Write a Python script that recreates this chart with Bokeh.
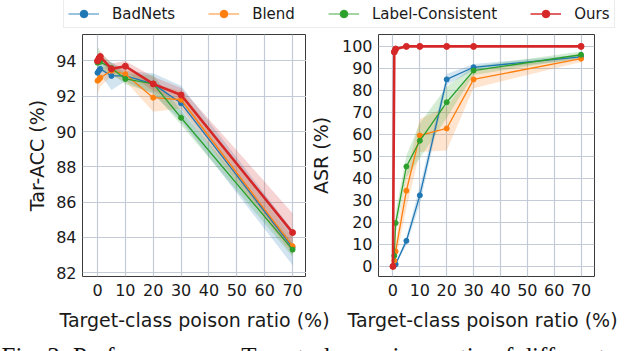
from bokeh.plotting import figure
from bokeh.layouts import column, row
from bokeh.models import ColumnDataSource, Legend, LegendItem, Range1d, FixedTicker, Label
from bokeh.embed import file_html
from bokeh.resources import INLINE

ratios = [0, 0.5, 1, 5, 10, 20, 30, 70]
methods = ["BadNets", "Blend", "Label-Consistent", "Ours"]
colors = ["#1f77b4", "#ff7f0e", "#2ca02c", "#d62728"]

# Tar-ACC (%) mean and spread
acc_badnets = [93.33, 93.45, 93.55, 93.15, 93.15, 92.70, 91.60, 83.42]
acc_blend = [92.88, 92.95, 93.05, 93.45, 93.25, 91.92, 91.80, 83.50]
acc_lc = [93.90, 94.05, 93.95, 93.60, 92.98, 92.70, 90.78, 83.30]
acc_ours = [94.00, 94.15, 94.25, 93.55, 93.70, 92.70, 92.07, 84.27]
acc_std_badnets = [0.4, 0.35, 0.3, 0.8, 0.3, 0.6, 1.0, 1.0]
acc_std_blend = [0.8, 0.6, 0.5, 0.3, 0.4, 0.8, 0.5, 0.5]
acc_std_lc = [0.8, 0.7, 0.5, 0.3, 0.3, 0.5, 0.4, 0.4]
acc_std_ours = [0.3, 0.3, 0.3, 0.3, 0.3, 0.4, 0.4, 1.1]

# ASR (%) mean and spread
asr_badnets = [0.0, 0.5, 1.0, 11.6, 32.3, 85.0, 90.5, 95.2]
asr_blend = [0.0, 2.6, 6.8, 34.4, 59.5, 62.7, 85.0, 94.4]
asr_lc = [0.0, 4.8, 19.7, 45.4, 57.1, 74.6, 89.0, 96.2]
asr_ours = [0.0, 97.5, 98.8, 100.0, 100.0, 100.0, 100.0, 100.0]
asr_std_badnets = [0.0, 0.3, 0.5, 2.0, 4.0, 2.5, 1.5, 1.0]
asr_std_blend = [0.0, 1.5, 4.0, 8.0, 7.5, 10.0, 4.0, 1.5]
asr_std_lc = [0.0, 2.0, 5.0, 5.0, 8.0, 7.0, 2.0, 1.5]
asr_std_ours = [0.0, 0.5, 0.4, 0.2, 0.1, 0.1, 0.1, 0.1]

x_ticks = [0, 10, 20, 30, 40, 50, 60, 70]
acc_ticks = [82, 84, 86, 88, 90, 92, 94]
asr_ticks = [0, 10, 20, 30, 40, 50, 60, 70, 80, 90, 100]

x_label = "Target-class poison ratio (%)"
caption = "Fig. 3: Performance vs. Target-class poison ratio of different"

FONT = "DejaVu Sans"
GRID = "#c3ccd6"
FRAME = "#3a3a3a"
TXT = "#1a1a1a"


def style(p, yticks, ylabel, ylab_standoff):
    p.xaxis.ticker = FixedTicker(ticks=x_ticks)
    p.yaxis.ticker = FixedTicker(ticks=yticks)
    for ax in (p.xaxis, p.yaxis):
        ax.major_label_text_font = FONT
        ax.major_label_text_font_size = "16px"
        ax.major_label_text_color = TXT
        ax.axis_label_text_font = FONT
        ax.axis_label_text_font_size = "19px"
        ax.axis_label_text_font_style = "normal"
        ax.axis_label_text_color = TXT
        ax.major_tick_out = 0
        ax.major_tick_in = 0
        ax.minor_tick_out = 0
        ax.minor_tick_in = 0
        ax.axis_line_color = None
        ax.major_label_standoff = 6
    p.xaxis.major_label_standoff = 7
    p.yaxis.axis_label = ylabel
    p.yaxis.axis_label_standoff = ylab_standoff
    p.grid.grid_line_color = GRID
    p.grid.grid_line_width = 1.2
    p.outline_line_color = FRAME
    p.outline_line_width = 1
    p.background_fill_color = "white"
    p.border_fill_color = "white"


def draw(p, means, stds, widths):
    for m, s, c in zip(means, stds, colors):
        lo = [a - b for a, b in zip(m, s)]
        hi = [a + b for a, b in zip(m, s)]
        src = ColumnDataSource(dict(x=ratios, lo=lo, hi=hi))
        p.varea(x="x", y1="lo", y2="hi", source=src, fill_color=c, fill_alpha=0.2)
    for m, c, w in zip(means, colors, widths):
        src = ColumnDataSource(dict(x=ratios, y=m))
        p.line(x="x", y="y", source=src, line_color=c, line_width=w)
        p.scatter(x="x", y="y", source=src, size=5 if w < 2 else 6, fill_color=c, line_color=c)


p1 = figure(width=306, height=270, output_backend="svg", toolbar_location=None,
            x_range=Range1d(-5.38, 75.0), y_range=Range1d(81.78, 95.5),
            min_border_left=82, min_border_right=0, min_border_top=4, min_border_bottom=22)
style(p1, acc_ticks, "Tar-ACC (%)", 5)
draw(p1, [acc_badnets, acc_blend, acc_lc, acc_ours],
     [acc_std_badnets, acc_std_blend, acc_std_lc, acc_std_ours], [1.3, 1.3, 1.3, 2.6])

p2 = figure(width=334, height=270, output_backend="svg", toolbar_location=None,
            x_range=Range1d(-5.38, 75.0), y_range=Range1d(-4.6, 105.4),
            min_border_left=64, min_border_right=46, min_border_top=2, min_border_bottom=24)
style(p2, asr_ticks, "ASR (%)", 7)
draw(p2, [asr_badnets, asr_blend, asr_lc, asr_ours],
     [asr_std_badnets, asr_std_blend, asr_std_lc, asr_std_ours], [1.3, 1.3, 1.3, 2.6])

# legend strip (series drawn out of view; only the legend is visible)
lg = figure(width=640, height=30, output_backend="svg", toolbar_location=None,
            x_range=Range1d(0, 1), y_range=Range1d(0, 1),
            min_border_left=0, min_border_right=0, min_border_top=0, min_border_bottom=0)
lg.axis.visible = False
lg.grid.visible = False
lg.outline_line_color = None
items = []
for name, c, m in zip(methods, colors, [acc_badnets, acc_blend, acc_lc, acc_ours]):
    src = ColumnDataSource(dict(x=ratios, y=m))
    r1 = lg.line(x="x", y="y", source=src, line_color=c, line_width=1.6,
                 line_alpha=0.55 if name != "Ours" else 0.9)
    r2 = lg.scatter(x="x", y="y", source=src, size=4, fill_color=c, line_color=c)
    items.append(LegendItem(label=name, renderers=[r1, r2]))
legend = Legend(items=items, orientation="horizontal", location=(63, 2),
                label_text_font=FONT, label_text_font_size="15px", label_text_color=TXT,
                glyph_width=31, glyph_height=19, label_height=19, label_standoff=13,
                spacing=33, padding=4, margin=0,
                border_line_color="#d9d9d9", border_line_width=1,
                background_fill_color="white", background_fill_alpha=1.0)
lg.add_layout(legend, "center")

# bottom strip with the two x-axis titles and the (cropped) caption
bt = figure(width=640, height=51, output_backend="svg", toolbar_location=None,
            x_range=Range1d(0, 1), y_range=Range1d(0, 1),
            min_border_left=0, min_border_right=0, min_border_top=0, min_border_bottom=0)
bt.axis.visible = False
bt.grid.visible = False
bt.outline_line_color = None
for cx in (194, 482):
    bt.add_layout(Label(x=cx, y=32, x_units="screen", y_units="screen", text=x_label,
                        text_align="center", text_baseline="alphabetic",
                        text_font=FONT, text_font_size="19px", text_color=TXT))
bt.add_layout(Label(x=1, y=-5, x_units="screen", y_units="screen", text=caption,
                    text_align="left", text_baseline="alphabetic",
                    text_font="Liberation Serif", text_font_size="25px", text_color="#111111"))

layout = column(lg, row(p1, p2, spacing=0), bt, spacing=0)

open("out.html", "w").write(file_html(layout, INLINE))
